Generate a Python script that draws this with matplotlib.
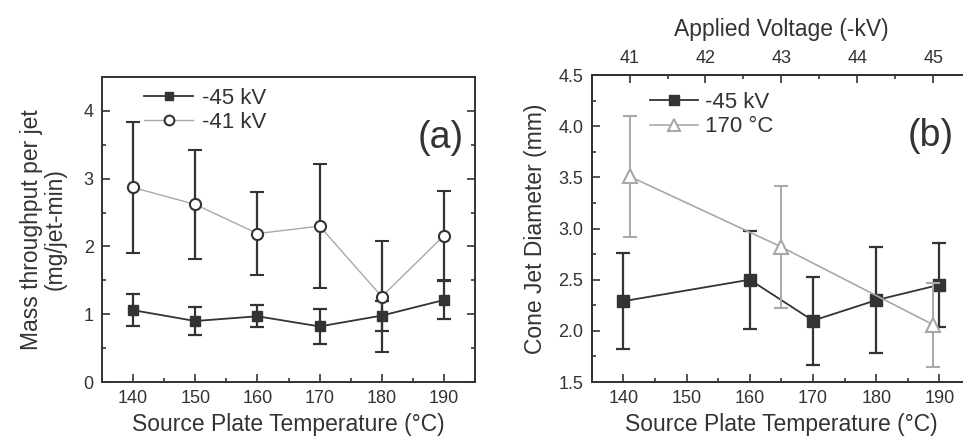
import matplotlib
matplotlib.use('Agg')
import matplotlib.pyplot as plt
from matplotlib.ticker import MultipleLocator, FormatStrFormatter
from matplotlib.lines import Line2D

plt.rcParams['font.family'] = ['Liberation Sans', 'DejaVu Sans']
plt.rcParams['text.color'] = '#333333'
plt.rcParams['axes.labelcolor'] = '#333333'
plt.rcParams['xtick.color'] = '#333333'
plt.rcParams['ytick.color'] = '#333333'

# panel (a): mass throughput vs temperature
temp_a = [140, 150, 160, 170, 180, 190]
m45 = [1.06, 0.90, 0.97, 0.82, 0.98, 1.21]
m45_err = [0.24, 0.20, 0.16, 0.26, 0.22, 0.28]
m41 = [2.87, 2.62, 2.19, 2.30, 1.26, 2.16]
m41_err = [0.97, 0.80, 0.61, 0.92, 0.82, 0.66]

# panel (b): cone jet diameter
temp_b = [140, 160, 170, 180, 190]
d45 = [2.29, 2.50, 2.10, 2.30, 2.45]
d45_err = [0.47, 0.48, 0.43, 0.52, 0.41]
volt = [41, 43, 45]
d170 = [3.51, 2.82, 2.06]
d170_err = [0.59, 0.60, 0.41]

dark = '#333333'
grey = '#a8a8a8'

fig = plt.figure(figsize=(9.63, 4.44), dpi=100)
ax1 = fig.add_axes([0.1059, 0.1396, 0.3874, 0.687])
ax2 = fig.add_axes([0.6144, 0.1396, 0.394, 0.6914])


def style(ax):
    for s in ax.spines.values():
        s.set_linewidth(1.4)
        s.set_color(dark)
    ax.tick_params(which='both', direction='in', labelsize=13, width=1.2)
    ax.tick_params(which='major', length=6, pad=6)
    ax.tick_params(which='minor', length=3)


ax1.errorbar(temp_a, m45, yerr=m45_err, color=dark, marker='s', ms=7,
             lw=1.3, elinewidth=1.6, capsize=5, capthick=1.6)
ax1.errorbar(temp_a, m41, yerr=m41_err, color=grey, ecolor=dark, marker='o', ms=8,
             mfc='white', mec=dark, mew=1.5, lw=1.0, elinewidth=1.6, capsize=5,
             capthick=1.6)
ax1.set_xlim(135, 195)
ax1.set_ylim(0, 4.5)
ax1.xaxis.set_major_locator(MultipleLocator(10))
ax1.xaxis.set_minor_locator(MultipleLocator(5))
ax1.yaxis.set_major_locator(MultipleLocator(1))
ax1.yaxis.set_minor_locator(MultipleLocator(0.5))
style(ax1)
ax1.tick_params(which='both', right=True)
ax1.set_xlabel('Source Plate Temperature (°C)', fontsize=16.5)
ax1.set_ylabel('Mass throughput per jet\n(mg/jet-min)', fontsize=16.5, labelpad=12,
               linespacing=1.05)
leg_a = [Line2D([], [], color=dark, marker='s', ms=6, lw=1.3),
         Line2D([], [], color=grey, marker='o', ms=7, mfc='white', mec=dark, mew=1.5, lw=1.0)]
ax1.legend(leg_a, ['-45 kV', '-41 kV'], loc='upper left', bbox_to_anchor=(0.06, 1.03),
           frameon=False, fontsize=16, handlelength=2.2, handletextpad=0.4, labelspacing=0.15)
ax1.text(0.97, 0.80, '(a)', transform=ax1.transAxes, fontsize=27, ha='right', va='center')

ax2.errorbar(temp_b, d45, yerr=d45_err, color=dark, marker='s', ms=9,
             lw=1.3, elinewidth=1.6, capsize=5, capthick=1.6, zorder=3)
ax2.set_xlim(135, 195)
ax2.set_ylim(1.5, 4.5)
ax2.xaxis.set_major_locator(MultipleLocator(10))
ax2.xaxis.set_minor_locator(MultipleLocator(5))
ax2.yaxis.set_major_locator(MultipleLocator(0.5))
ax2.yaxis.set_minor_locator(MultipleLocator(0.25))
ax2.yaxis.set_major_formatter(FormatStrFormatter('%.1f'))
style(ax2)
ax2.tick_params(which='both', right=True)
ax2.set_xlabel('Source Plate Temperature (°C)', fontsize=16.5)
ax2.set_ylabel('Cone Jet Diameter (mm)', fontsize=16.5, labelpad=8)

ax3 = ax2.twiny()
ax3.errorbar(volt, d170, yerr=d170_err, color=grey, marker='^', ms=10, mfc='white',
             mec=grey, mew=1.5, lw=1.2, elinewidth=1.4, capsize=5, capthick=1.4)
ax3.set_xlim(40.5, 45.5)
ax3.xaxis.set_major_locator(MultipleLocator(1))
ax3.xaxis.set_minor_locator(MultipleLocator(0.5))
style(ax3)
ax3.tick_params(which='both', left=False, right=False, bottom=False, top=True)
ax3.set_xlabel('Applied Voltage (-kV)', fontsize=16.5, labelpad=10)

leg_b = [Line2D([], [], color=dark, marker='s', ms=7, lw=1.3),
         Line2D([], [], color=grey, marker='^', ms=9, mfc='white', mec=grey, mew=1.5, lw=1.2)]
ax3.legend(leg_b, ['-45 kV', '170 °C'], loc='upper left', bbox_to_anchor=(0.1, 1.01),
           frameon=False, fontsize=16, handlelength=2.2, handletextpad=0.3, labelspacing=0.15)
ax3.text(0.955, 0.80, '(b)', transform=ax2.transAxes, fontsize=27, ha='right', va='center')

fig.savefig('out.png', dpi=100)
